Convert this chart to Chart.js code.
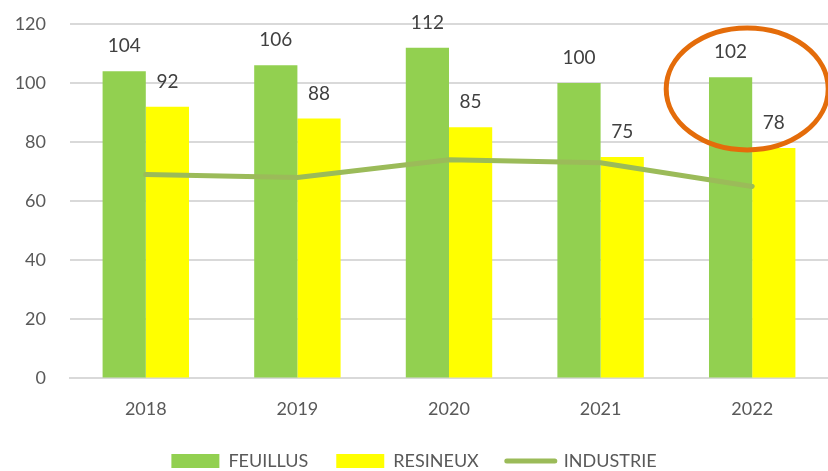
<!DOCTYPE html>
<html>
<head>
<meta charset="utf-8">
<script src="https://cdn.jsdelivr.net/npm/chart.js@4"></script>
<style>
    html, body { margin: 0; padding: 0; background: #ffffff; }
    #wrap { width: 828px; height: 471px; }
</style>
</head>
<body>
<div id="wrap"><canvas id="woodChart"></canvas></div>
<script>

// 데이터
const years = ['2018', '2019', '2020', '2021', '2022'];
const feuillus = [104, 106, 112, 100, 102];
const resineux = [92, 88, 85, 75, 78];
const industrie = [69, 68, 74, 73, 65];
const yTicks = [0, 20, 40, 60, 80, 100, 120];

const FONT = 'Lato, "Open Sans", sans-serif';


// 막대 위 값 표시
const barValuePlugin = {
    id: 'barValues',
    afterDatasetsDraw(chart) {
        const ctx = chart.ctx;
        ctx.save();
        ctx.font = '19px ' + FONT;
        ctx.fillStyle = '#404040';
        ctx.textAlign = 'center';
        ctx.textBaseline = 'middle';
        chart.data.datasets.forEach(function(ds, i) {
            if (ds.type === 'line') {
                return;
            }
            chart.getDatasetMeta(i).data.forEach(function(bar, j) {
                ctx.fillText(String(ds.data[j]), bar.x, bar.y - 25);
            });
        });
        ctx.restore();
    }
};


// 2022 강조 타원
const highlightPlugin = {
    id: 'highlight',
    afterDraw(chart) {
        const ctx = chart.ctx;
        const x = chart.scales.x;
        const y = chart.scales.y;
        const cx = x.getPixelForValue(4) - 5;
        const cy = y.getPixelForValue(98);
        ctx.save();
        ctx.strokeStyle = '#E46C0A';
        ctx.lineWidth = 5;
        ctx.beginPath();
        ctx.ellipse(cx, cy, 81, 61, 0, 0, Math.PI * 2);
        ctx.stroke();
        ctx.restore();
    }
};


new Chart(document.getElementById('woodChart').getContext('2d'), {
    data: {
        labels: years,
        datasets: [
            {
                type: 'bar',
                label: 'FEUILLUS',
                data: feuillus,
                backgroundColor: '#92D050',
                categoryPercentage: 0.57,
                barPercentage: 1,
                order: 2
            },
            {
                type: 'bar',
                label: 'RESINEUX',
                data: resineux,
                backgroundColor: '#FFFF00',
                categoryPercentage: 0.57,
                barPercentage: 1,
                order: 2
            },
            {
                type: 'line',
                label: 'INDUSTRIE',
                data: industrie,
                borderColor: '#9BBB59',
                backgroundColor: '#9BBB59',
                borderWidth: 5,
                borderCapStyle: 'round',
                pointRadius: 0,
                tension: 0,
                order: 1
            }
        ]
    },
    options: {
        responsive: true,
        maintainAspectRatio: false,
        animation: false,
        layout: {
            padding: { top: 24, right: 0, left: 0, bottom: -9 }
        },
        plugins: {
            tooltip: { enabled: false },
            legend: {
                position: 'bottom',
                labels: {
                    usePointStyle: true,
                    pointStyleWidth: 48,
                    boxHeight: 14,
                    padding: 28,
                    color: '#595959',
                    font: { family: FONT, size: 18 },
                    sort(a, b) {
                        return a.datasetIndex - b.datasetIndex;
                    },
                    generateLabels(chart) {
                        const items = Chart.defaults.plugins.legend.labels.generateLabels(chart);
                        items.forEach(function(item) {
                            const ds = chart.data.datasets[item.datasetIndex];
                            if (ds.type === 'line') {
                                item.pointStyle = 'line';
                                item.lineWidth = 5;
                                item.strokeStyle = '#9BBB59';
                                item.lineCap = 'round';
                            } else {
                                item.pointStyle = 'rect';
                                item.lineWidth = 0;
                            }
                        });
                        return items;
                    }
                }
            }
        },
        scales: {
            x: {
                afterFit(scale) {
                    scale.height = scale.height - 8;
                },
                grid: { display: false },
                border: { color: '#D9D9D9', width: 2 },
                ticks: {
                    color: '#595959',
                    font: { family: FONT, size: 18 },
                    padding: 12
                }
            },
            y: {
                min: 0,
                max: 120,
                afterBuildTicks(scale) {
                    scale.ticks = yTicks.map(function(v) { return { value: v }; });
                },
                afterFit(scale) {
                    scale.width = 70;
                    scale.paddingTop = 0;
                    scale.paddingBottom = 0;
                },
                grid: {
                    color: '#D9D9D9',
                    lineWidth: 2,
                    drawTicks: false
                },
                border: { display: false },
                ticks: {
                    color: '#595959',
                    font: { family: FONT, size: 18 },
                    padding: 24
                }
            }
        }
    },
    plugins: [barValuePlugin, highlightPlugin]
});
</script>
</body>
</html>
